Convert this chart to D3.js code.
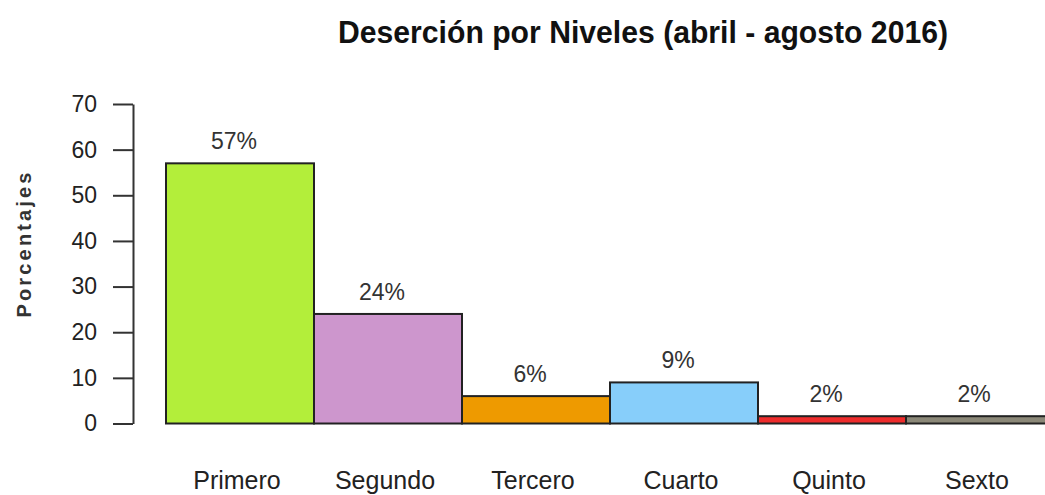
<!DOCTYPE html>
<html>
<head>
<meta charset="utf-8">
<script src="https://cdn.jsdelivr.net/npm/d3@7"></script>
<style>
  body { margin: 0; background: #fff; }
  text { font-family: "Liberation Sans", Arial, sans-serif; fill: #222; }
</style>
</head>
<body>
<svg id="chart" width="1045" height="495"></svg>
<script>
const niveles = ['Primero', 'Segundo', 'Tercero', 'Cuarto', 'Quinto', 'Sexto']
const porcentajes = [57, 24, 6, 9, 1.6, 1.6]
const etiquetas = ['57%', '24%', '6%', '9%', '2%', '2%']
const colores = ['#b3ee3a', '#cd96cd', '#ee9a00', '#87cefa', '#ee2c2c', '#8b8878']
const yTicks = [0, 10, 20, 30, 40, 50, 60, 70]

const narrow = '"Liberation Sans Narrow", "Liberation Sans", Arial, sans-serif'

const svg = d3.select('#chart')

const x = d3.scaleBand()
    .domain( niveles )
    .range( [ 166, 1054 ] )
    .padding( 0 )

const y = d3.scaleLinear()
    .domain( [ 0, 70 ] )
    .range( [ 423.5, 104 ] )

// title
svg.append('text')
    .attr( 'x', 643 )
    .attr( 'y', 43 )
    .attr( 'text-anchor', 'middle' )
    .attr( 'font-size', 31 )
    .attr( 'font-weight', 'bold' )
    .attr( 'textLength', 610 )
    .attr( 'lengthAdjust', 'spacingAndGlyphs' )
    .style( 'font-family', narrow )
    .style( 'fill', '#111' )
    .text( 'Deserción por Niveles (abril - agosto 2016)' )

// y axis
const yAxis = svg.append('g')
    .attr( 'transform', 'translate( 133, 0 )' )
    .call( d3.axisLeft( y ).tickValues( yTicks ).tickSize( 20 ).tickSizeOuter( 0 ).tickPadding( 16 ) )

yAxis.select('.domain').attr( 'stroke', '#333' ).attr( 'stroke-width', 2 )
yAxis.selectAll('.tick line').attr( 'stroke', '#333' ).attr( 'stroke-width', 2 )
yAxis.selectAll('.tick text')
    .attr( 'font-size', 23 )
    .attr( 'font-family', narrow )
    .style( 'fill', '#222' )

svg.append('text')
    .attr( 'transform', 'translate( 31, 245 ) rotate( -90 )' )
    .attr( 'text-anchor', 'middle' )
    .attr( 'font-size', 20 )
    .attr( 'font-weight', 'bold' )
    .attr( 'textLength', 145 )
    .attr( 'lengthAdjust', 'spacing' )
    .style( 'fill', '#333' )
    .text( 'Porcentajes' )

// bars
svg.append('g')
    .selectAll('rect')
    .data( niveles )
    .join('rect')
        .attr( 'x', d => x(d) )
        .attr( 'y', ( d, i ) => y( porcentajes[i] ) )
        .attr( 'width', x.bandwidth() )
        .attr( 'height', ( d, i ) => y(0) - y( porcentajes[i] ) )
        .attr( 'fill', ( d, i ) => colores[i] )
        .attr( 'stroke', '#222' )
        .attr( 'stroke-width', 2 )

// value labels
svg.append('g')
    .selectAll('text')
    .data( niveles )
    .join('text')
        .attr( 'x', d => x(d) + x.bandwidth() / 2 - 6 )
        .attr( 'y', ( d, i ) => y( porcentajes[i] ) - 14 )
        .attr( 'text-anchor', 'middle' )
        .attr( 'font-size', 23 )
        .style( 'font-family', narrow )
        .style( 'fill', '#333' )
        .text( ( d, i ) => etiquetas[i] )

// category labels
svg.append('g')
    .selectAll('text')
    .data( niveles )
    .join('text')
        .attr( 'x', d => x(d) + x.bandwidth() / 2 - 3 )
        .attr( 'y', 489 )
        .attr( 'text-anchor', 'middle' )
        .attr( 'font-size', 25 )
        .style( 'font-family', narrow )
        .style( 'fill', '#222' )
        .text( d => d )
</script>
</body>
</html>
